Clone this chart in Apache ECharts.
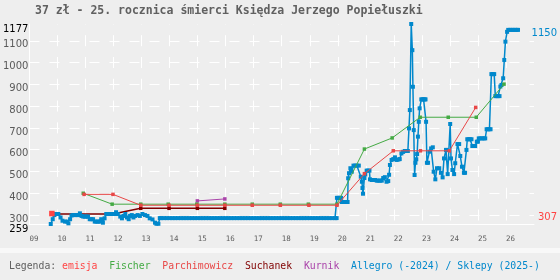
<!DOCTYPE html>
<html><head><meta charset="utf-8">
<script src="https://cdn.jsdelivr.net/npm/echarts@6/dist/echarts.min.js"></script>
<style>html,body{margin:0;padding:0;background:#eeeeee}#c{width:560px;height:280px}</style>
</head><body><div id="c"></div>
<script>
const titleText = '37 zł - 25. rocznica śmierci Księdza Jerzego Popiełuszki';
const yearTicks = [2009,2010,2011,2012,2013,2014,2015,2016,2017,2018,2019,2020,2021,2022,2023,2024,2025,2026];
const yearLabels = ['09','10','11','12','13','14','15','16','17','18','19','20','21','22','23','24','25','26'];
const yMin = 259, yMax = 1177;
const rightLabels = [307, 1150];

const emisja = [[2009.8,307]];
const fischer = [[2010.92,400],[2011.95,350],[2012.97,350],[2013.95,350],[2014.97,350],[2015.97,350],[2016.95,350],[2017.95,350],[2018.95,350],[2019.97,350],[2020.95,603],[2021.94,654],[2022.94,749],[2023.94,749],[2024.94,749],[2025.93,901]];
const parchimowicz = [[2010.95,395],[2011.98,395],[2012.97,345],[2013.98,345],[2014.99,345],[2015.97,345],[2016.95,345],[2017.95,345],[2018.97,345],[2019.97,345],[2020.95,490],[2021.98,595],[2022.95,595],[2023.98,595],[2024.92,794]];
const suchanek = [[2009.85,305],[2011.98,305],[2012.97,331],[2013.98,331],[2014.99,331],[2015.97,331]];
const kurnik = [[2014.99,365],[2015.97,374]];
const allegro = [
[2009.76,259],[2009.83,281],[2009.89,300],[2009.95,305],[2010.03,305],[2010.11,289],[2010.18,274],[2010.27,270],[2010.35,270],[2010.39,262],[2010.45,281],[2010.50,298],[2010.56,300],[2010.62,300],[2010.68,300],[2010.74,300],[2010.80,308],[2010.86,296],[2010.92,293],[2010.98,293],[2011.04,293],[2011.09,293],[2011.15,281],[2011.21,281],[2011.27,281],[2011.33,270],[2011.39,270],[2011.45,270],[2011.51,270],[2011.56,281],[2011.62,265],[2011.68,285],[2011.74,305],[2011.80,305],[2011.86,305],[2011.92,305],[2011.98,305],[2012.03,305],[2012.09,313],[2012.15,305],[2012.24,293],[2012.30,285],[2012.36,296],[2012.42,305],[2012.48,289],[2012.54,281],[2012.59,296],[2012.65,300],[2012.71,289],[2012.77,296],[2012.86,300],[2012.94,296],[2013.03,305],[2013.12,300],[2013.21,296],[2013.29,285],[2013.39,280],[2013.48,265],[2013.53,260],[2013.60,260],[2013.65,286],
[2013.7,286],[2013.8,286],[2013.9,286],
[2014.0,286],[2014.1,286],[2014.2,286],[2014.3,286],[2014.4,286],[2014.5,286],[2014.6,286],[2014.7,286],[2014.8,286],[2014.9,286],
[2015.0,286],[2015.1,286],[2015.2,286],[2015.3,286],[2015.4,286],[2015.5,286],[2015.6,286],[2015.7,286],[2015.8,286],[2015.9,286],
[2016.0,286],[2016.1,286],[2016.2,286],[2016.3,286],[2016.4,286],[2016.5,286],[2016.6,286],[2016.7,286],[2016.8,286],[2016.9,286],
[2017.0,286],[2017.1,286],[2017.2,286],[2017.3,286],[2017.4,286],[2017.5,286],[2017.6,286],[2017.7,286],[2017.8,286],[2017.9,286],
[2018.0,286],[2018.1,286],[2018.2,286],[2018.3,286],[2018.4,286],[2018.5,286],[2018.6,286],[2018.7,286],[2018.8,286],[2018.9,286],
[2019.0,286],[2019.1,286],[2019.2,286],[2019.3,286],[2019.4,286],[2019.5,286],[2019.6,286],[2019.7,286],[2019.8,286],[2019.9,286],[2019.96,286],
[2019.97,379],[2020.02,379],[2020.07,379],[2020.12,379],[2020.14,360],[2020.19,360],[2020.24,360],[2020.29,360],[2020.35,360],[2020.37,469],[2020.40,492],[2020.45,515],[2020.50,499],[2020.56,527],[2020.62,527],[2020.68,527],[2020.75,527],[2020.82,476],[2020.86,453],[2020.88,424],[2020.90,398],[2020.95,470],[2020.98,487],[2021.03,504],[2021.08,504],[2021.13,504],[2021.15,464],[2021.21,461],[2021.27,461],[2021.33,461],[2021.39,458],[2021.45,458],[2021.51,458],[2021.57,458],[2021.62,470],[2021.68,474],[2021.74,453],[2021.80,456],[2021.83,485],[2021.86,530],[2021.92,553],[2021.98,557],[2022.04,565],[2022.10,553],[2022.16,555],[2022.21,557],[2022.27,583],[2022.33,590],[2022.39,594],[2022.45,594],[2022.50,594],[2022.54,698],[2022.57,782],[2022.62,1177],[2022.66,1057],[2022.68,889],[2022.71,690],[2022.74,484],[2022.77,540],[2022.80,556],[2022.83,580],[2022.86,660],[2022.89,728],[2022.92,790],[2022.98,831],[2023.02,831],[2023.06,831],[2023.10,831],[2023.13,831],[2023.15,728],[2023.18,540],[2023.22,540],[2023.27,591],[2023.33,606],[2023.39,611],[2023.42,499],[2023.48,464],[2023.54,515],[2023.62,515],[2023.68,494],[2023.74,473],[2023.79,560],[2023.86,599],[2023.88,599],[2023.92,488],[2024.01,718],[2024.04,560],[2024.09,507],[2024.15,488],[2024.19,538],[2024.27,626],[2024.33,626],[2024.37,571],[2024.43,522],[2024.50,494],[2024.54,494],[2024.59,599],[2024.62,648],[2024.67,648],[2024.72,648],[2024.77,648],[2024.80,617],[2024.85,617],[2024.90,617],[2024.96,637],[2025.00,637],[2025.03,652],[2025.09,652],[2025.15,652],[2025.21,652],[2025.26,652],[2025.31,694],[2025.36,694],[2025.41,694],[2025.45,694],[2025.48,947],[2025.53,947],[2025.58,947],[2025.62,846],[2025.67,846],[2025.72,846],[2025.77,846],[2025.80,890],[2025.84,897],[2025.90,928],[2025.94,1012],[2025.98,1096],[2026.04,1141],[2026.08,1150],[2026.14,1150],[2026.20,1150],[2026.26,1150],[2026.32,1150],[2026.38,1150],[2026.43,1150]
];

const C = {emisja:'#ff4444', fischer:'#44aa44', parch:'#e84848', such:'#800000', kurnik:'#aa44aa', allegro:'#0088cc'};
const mono = 'DejaVu Sans Mono';

const chart = echarts.init(document.getElementById('c'), null, {renderer:'canvas'});
function lineSeries(name, data, color, size, width, z) {
  return {name, type:'line', data, z, animation:false, showSymbol:true, symbol:'rect', symbolSize:size,
    itemStyle:{color}, lineStyle:{color, width}, emphasis:{disabled:true}};
}
chart.setOption({
  backgroundColor:'#eeeeee',
  animation:false,
  title:[
    {text:titleText, left:35, top:5, padding:0, textStyle:{fontFamily:mono, fontWeight:'bold', fontSize:11.5, color:'#606060'}},
    {text:'{l|Legenda:} {e|emisja}  {f|Fischer}  {p|Parchimowicz}  {s|Suchanek}  {k|Kurnik}  {a|Allegro (-2024) / Sklepy (2025-)}',
     left:9, top:261, padding:0,
     textStyle:{fontFamily:mono, fontSize:9.8, fontWeight:'normal',
       rich:{l:{color:'#606060',fontFamily:mono,fontSize:9.8}, e:{color:C.emisja,fontFamily:mono,fontSize:9.8}, f:{color:C.fischer,fontFamily:mono,fontSize:9.8},
             p:{color:C.parch,fontFamily:mono,fontSize:9.8}, s:{color:C.such,fontFamily:mono,fontSize:9.8}, k:{color:C.kurnik,fontFamily:mono,fontSize:9.8}, a:{color:C.allegro,fontFamily:mono,fontSize:9.8}}}}
  ],
  graphic:[{type:'rect', shape:{x:0,y:248,width:560,height:5}, style:{fill:'#f8f8f8'}, silent:true}],
  grid:{left:26, right:24, top:24, bottom:56},
  xAxis:{type:'value', min:2009, max:2027, interval:1,
    axisLine:{show:true, lineStyle:{color:'#ffffff', width:1}},
    axisTick:{show:false},
    axisLabel:{show:true, margin:11, align:'left', fontFamily:mono, fontSize:7.5, color:'#606060',
      formatter:v=>{const i=yearTicks.indexOf(v); return i>=0?yearLabels[i]:'';}},
    splitLine:{show:true, showMinLine:false, showMaxLine:false, lineStyle:{color:'#ffffff', width:1, type:[11,10.79], dashOffset:10.6}}
  },
  yAxis:[
    {type:'value', min:yMin, max:yMax, splitNumber:9,
      axisLine:{show:true, lineStyle:{color:'#ffffff', width:1}},
      axisTick:{show:false},
      axisLabel:{show:true, margin:1, fontFamily:'DejaVu Sans', fontSize:10,
        formatter:v=>(v===yMin||v===yMax)?('{e|'+v+'}'):('{n|'+v+'}'),
        rich:{e:{color:'#000', fontFamily:'DejaVu Sans', fontSize:10, padding:[11,0,0,0]},
              n:{color:'#5a5a5a', fontFamily:'DejaVu Sans', fontSize:10, padding:[8,0,0,0]}}},
      splitLine:{show:true, showMinLine:false, showMaxLine:false, lineStyle:{color:'#ffffff', width:1, type:[10,10], dashOffset:0}}
    },
    {type:'value', min:yMin, max:yMax, position:'right',
      axisLine:{show:false}, axisTick:{show:false}, splitLine:{show:false},
      axisLabel:{show:true, customValues:rightLabels, margin:23, align:'right', fontFamily:'DejaVu Sans', fontSize:10,
        formatter:v=>(v===rightLabels[0]?'{r|':'{b|')+v+'}',
        rich:{r:{color:C.emisja, fontFamily:'DejaVu Sans', fontSize:10, padding:[8,0,0,0]},
              b:{color:C.allegro, fontFamily:'DejaVu Sans', fontSize:10, padding:[8,0,0,0]}}}
    }
  ],
  series:[
    lineSeries('Suchanek', suchanek, C.such, 3.5, 1.5, 2),
    lineSeries('Allegro (-2024) / Sklepy (2025-)', allegro, C.allegro, 4, 1.5, 3),
    lineSeries('Kurnik', kurnik, C.kurnik, 3.5, 1, 4),
    lineSeries('Fischer', fischer, C.fischer, 3.5, 1, 5),
    lineSeries('Parchimowicz', parchimowicz, C.parch, 3.5, 1, 6),
    lineSeries('emisja', emisja, C.emisja, 5.5, 1, 7)
  ]
});
</script></body></html>
